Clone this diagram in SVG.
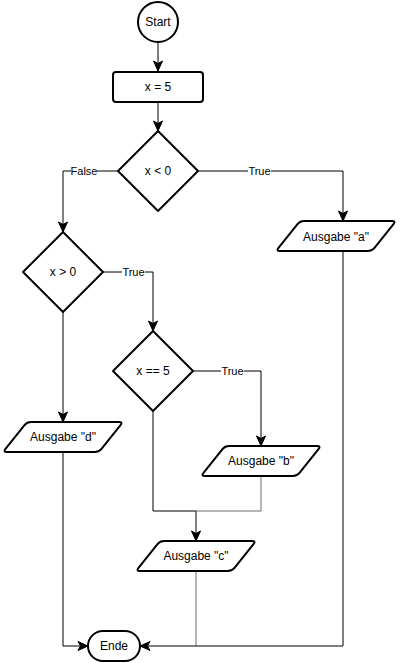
<svg xmlns="http://www.w3.org/2000/svg" width="400" height="663" viewBox="0 0 400 663">
<style>
.shape{fill:#ffffff;stroke:#000000;stroke-width:2;stroke-linejoin:round}
.edge{fill:none;stroke:#000000;stroke-width:1}
.gray{fill:none;stroke:#6e6e6e;stroke-width:1}
.t{font-family:"Liberation Sans",Arial,sans-serif;font-size:12px;fill:#000000;text-anchor:middle;dominant-baseline:central}
.lbl{font-family:"Liberation Sans",Arial,sans-serif;font-size:11px;fill:#000000;text-anchor:middle;dominant-baseline:central}
.lblbg{fill:#ffffff;stroke:none}
</style>
<defs>
<marker id="arr" markerWidth="12" markerHeight="12" viewBox="0 0 12 12" refX="11" refY="6" orient="auto" markerUnits="userSpaceOnUse">
<path d="M1,1.5 L11,6 L1,10.5 L3.5,6 Z" fill="#000000" stroke="#000000" stroke-width="1" stroke-linejoin="miter"/>
</marker>
</defs>
<rect width="400" height="663" fill="#ffffff"/>
<g id="connectors">
<path class="edge" d="M158,42 V71" marker-end="url(#arr)"/>
<path class="edge" d="M158,102 V131" marker-end="url(#arr)"/>
<path class="edge" d="M118,171 H63 V232" marker-end="url(#arr)"/>
<path class="edge" d="M198,171 H343 V221" marker-end="url(#arr)"/>
<path class="edge" d="M103,272 H153 V331" marker-end="url(#arr)"/>
<path class="edge" d="M63,312 V422" marker-end="url(#arr)"/>
<path class="edge" d="M193,371 H261 V446" marker-end="url(#arr)"/>
<path class="edge" d="M153,411 V511 H196 V541" marker-end="url(#arr)"/>
<path class="gray" d="M261,476 V511 H196"/>
<path class="gray" d="M196,571 V646"/>
<path class="edge" d="M343,251 V646 H140" marker-end="url(#arr)"/>
<path class="edge" d="M63,452 V646 H88" marker-end="url(#arr)"/>
<rect class="lblbg" x="71" y="164" width="26" height="14"/>
<text class="lbl" x="84" y="171">False</text>
<rect class="lblbg" x="248" y="164" width="23" height="14"/>
<text class="lbl" x="259.5" y="171">True</text>
<rect class="lblbg" x="122" y="265" width="23" height="14"/>
<text class="lbl" x="133.5" y="272">True</text>
<rect class="lblbg" x="221" y="364" width="23" height="14"/>
<text class="lbl" x="232.5" y="371">True</text>
</g>
<g id="start">
<circle class="shape" cx="158" cy="22" r="20"/>
<text class="t" x="158" y="22">Start</text>
</g>
<g id="assign">
<rect class="shape" x="113" y="72" width="90" height="30" rx="3"/>
<text class="t" x="158" y="87">x = 5</text>
</g>
<g id="cond1">
<path class="shape" d="M158,131 L198,171 L158,211 L118,171 Z"/>
<text class="t" x="158" y="171">x &lt; 0</text>
</g>
<g id="cond2">
<path class="shape" d="M63,232 L103,272 L63,312 L23,272 Z"/>
<text class="t" x="63" y="272">x &gt; 0</text>
</g>
<g id="cond3">
<path class="shape" d="M153,331 L193,371 L153,411 L113,371 Z"/>
<text class="t" x="153" y="371">x == 5</text>
</g>
<g id="outA">
<path class="shape" d="M304,221 H392 Q396,221 393.5,224.1 L374.5,247.9 Q372,251 368,251 H280 Q276,251 278.5,247.9 L297.5,224.1 Q300,221 304,221 Z"/>
<text class="t" x="336" y="237">Ausgabe "a"</text>
</g>
<g id="outB">
<path class="shape" d="M229,446 H317 Q321,446 318.5,449.1 L299.5,472.9 Q297,476 293,476 H205 Q201,476 203.5,472.9 L222.5,449.1 Q225,446 229,446 Z"/>
<text class="t" x="261" y="461">Ausgabe "b"</text>
</g>
<g id="outC">
<path class="shape" d="M164,541 H252 Q256,541 253.5,544.1 L234.5,567.9 Q232,571 228,571 H140 Q136,571 138.5,567.9 L157.5,544.1 Q160,541 164,541 Z"/>
<text class="t" x="196" y="556">Ausgabe "c"</text>
</g>
<g id="outD">
<path class="shape" d="M31,422 H119 Q123,422 120.5,425.1 L101.5,448.9 Q99,452 95,452 H7 Q3,452 5.5,448.9 L24.5,425.1 Q27,422 31,422 Z"/>
<text class="t" x="63" y="437">Ausgabe "d"</text>
</g>
<g id="end">
<rect class="shape" x="88" y="631" width="52" height="30" rx="15"/>
<text class="t" x="114" y="646">Ende</text>
</g>
</svg>
